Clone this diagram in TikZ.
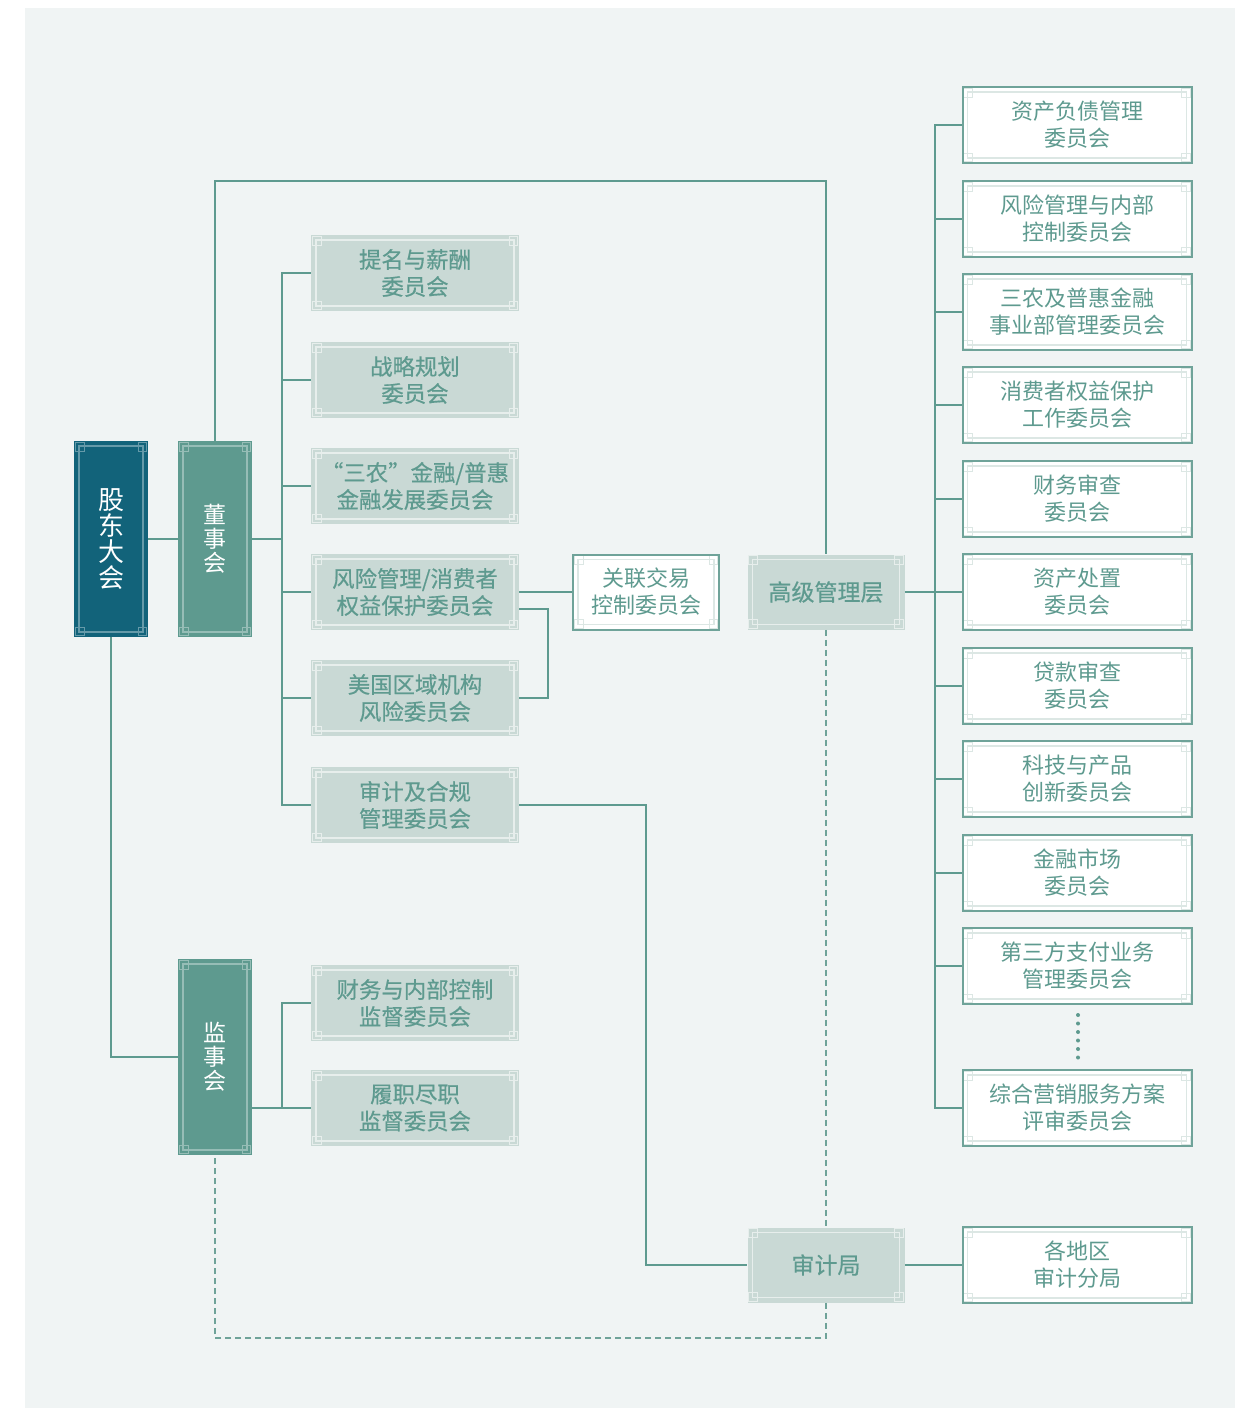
\documentclass[tikz,border=0pt]{standalone}
\usepackage{fontspec}
\newfontfamily\cjk{Noto Sans CJK SC}
\newfontfamily\cjkm[FakeBold=0.5]{Noto Sans CJK SC}
\usetikzlibrary{calc}
\definecolor{bgc}{HTML}{F0F4F4}
\definecolor{deep}{HTML}{12637A}
\definecolor{teal}{HTML}{5E9A8F}
\definecolor{pale}{HTML}{C9D9D5}
\definecolor{edge}{HTML}{6FA399}
\definecolor{trim}{HTML}{DCE7E4}
\tikzset{
  corners/.style={path picture={
    \draw[#1,line width=0.6pt]
      ([shift={(2.5pt,2.5pt)}]path picture bounding box.south west) rectangle
      ([shift={(-2.5pt,-2.5pt)}]path picture bounding box.north east);
    \foreach \a/\dx/\dy in {south west/1/1,south east/-1/1,north west/1/-1,north east/-1/-1}
      \draw[#1,line width=0.5pt]
        ([shift={(0.6*\dx pt,0.6*\dy pt)}]path picture bounding box.\a) rectangle
        ([shift={(5*\dx pt,5*\dy pt)}]path picture bounding box.\a);
  }},
  tall/.style={draw=none,fill=#1,corners=white!35!#1,text=white,font=\cjk,
    minimum width=37pt,minimum height=98pt,inner sep=0pt,align=center},
  grey/.style={fill=pale,corners=white!55!pale,text=teal,font=\cjkm\fontsize{11.2}{13.5}\selectfont,
    minimum width=104pt,minimum height=38pt,inner sep=0pt,align=center},
  plain/.style={fill=white,draw=edge,line width=1pt,corners=trim,text=teal,
    font=\cjk\fontsize{11}{13.5}\selectfont,
    minimum width=114.5pt,minimum height=38pt,inner sep=0pt,align=center},
  link/.style={draw=teal,line width=1pt},
  dotted link/.style={draw=edge,line width=0.7pt,dash pattern=on 3pt off 2pt},
}
\begin{document}
\begin{tikzpicture}[x=0.5pt,y=-0.5pt]
  \useasboundingbox (0,0) rectangle (1249,1408);
  \fill[bgc] (25,8) rectangle (1235,1408);

  % left column
  \node[tall=deep,font=\cjk\fontsize{13}{13}\selectfont] (gd) at (111,539) {股\\东\\大\\会};
  \node[tall=teal,font=\cjk\fontsize{11.5}{12}\selectfont] (dsh) at (215,539) {董\\事\\会};
  \node[tall=teal,font=\cjk\fontsize{11.5}{12}\selectfont] (jsh) at (215,1057) {监\\事\\会};

  % board committees
  \node[grey] (c1) at (415,273) {提名与薪酬\\委员会};
  \node[grey] (c2) at (415,380) {战略规划\\委员会};
  \node[grey] (c3) at (415,486) {“三农”金融/普惠\\金融发展委员会};
  \node[grey] (c4) at (415,592) {风险管理/消费者\\权益保护委员会};
  \node[grey] (c5) at (415,698) {美国区域机构\\风险委员会};
  \node[grey] (c6) at (415,805) {审计及合规\\管理委员会};
  \node[plain,minimum width=73pt,minimum height=37.5pt] (glj) at (646,592) {关联交易\\控制委员会};

  % supervisory committees
  \node[grey] (s1) at (415,1003) {财务与内部控制\\监督委员会};
  \node[grey] (s2) at (415,1108) {履职尽职\\监督委员会};

  % management
  \node[grey,minimum width=78.5pt,minimum height=37.5pt,font=\cjkm\fontsize{11.5}{13.5}\selectfont] (gj) at (826,592) {高级管理层};
  \node[grey,minimum width=78.5pt,minimum height=37.5pt,font=\cjkm\fontsize{11.5}{13.5}\selectfont] (sjj) at (826,1265) {审计局};

  % management committees
  \foreach \n/\y/\t in {
    r1/125/{资产负债管理\\委员会},
    r2/219/{风险管理与内部\\控制委员会},
    r3/312/{三农及普惠金融\\事业部管理委员会},
    r4/405/{消费者权益保护\\工作委员会},
    r5/499/{财务审查\\委员会},
    r6/592/{资产处置\\委员会},
    r7/686/{贷款审查\\委员会},
    r8/779/{科技与产品\\创新委员会},
    r9/873/{金融市场\\委员会},
    r10/966/{第三方支付业务\\管理委员会},
    r11/1108/{综合营销服务方案\\评审委员会}}
    \node[plain] (\n) at (1077,\y) {\t};
  \node[plain] (fj) at (1077,1265) {各地区\\审计分局};
  \foreach \i in {0,...,5}
    \fill[teal] (1078,1015+8.5*\i) circle (1pt);

  % connectors
  \coordinate (dtop) at (215,181);
  \coordinate (dsp) at (282,539);
  \coordinate (jsp) at (282,1108);
  \coordinate (gsp) at (935,592);
  \coordinate (dbot) at (0,1338);

  \draw[link] (gd.east) -- (dsh.west);
  \draw[link] (gd.south) |- (jsh.west);
  \draw[link] (dsh.north) -- (dtop) -| (gj.north);
  \draw[link] (dsh.east) -- (dsp);
  \foreach \n in {c1,c2,c3,c4,c5,c6}
    \draw[link] (\n.west) -| (dsp);
  \draw[link] (c4.east) -- (glj.west);
  \draw[link] ([yshift=-8.5pt]c4.east) -- ++(29,0) |- (c5.east);
  \draw[link] (c6.east) -- ++(127,0) |- (sjj.west);
  \draw[link] (jsh.east |- jsp) -- (s2.west);
  \draw[link] (s1.west) -| (jsp);
  \draw[link] (gj.east) -- (gsp);
  \foreach \n in {r1,r2,r3,r4,r5,r6,r7,r8,r9,r10,r11}
    \draw[link] (\n.west) -| (gsp);
  \draw[link] (sjj.east) -- (fj.west);
  \draw[dotted link] (gj.south) -- (sjj.north);
  \draw[dotted link] (sjj.south) -- (sjj.south |- dbot) -| (jsh.south);
\end{tikzpicture}
\end{document}
